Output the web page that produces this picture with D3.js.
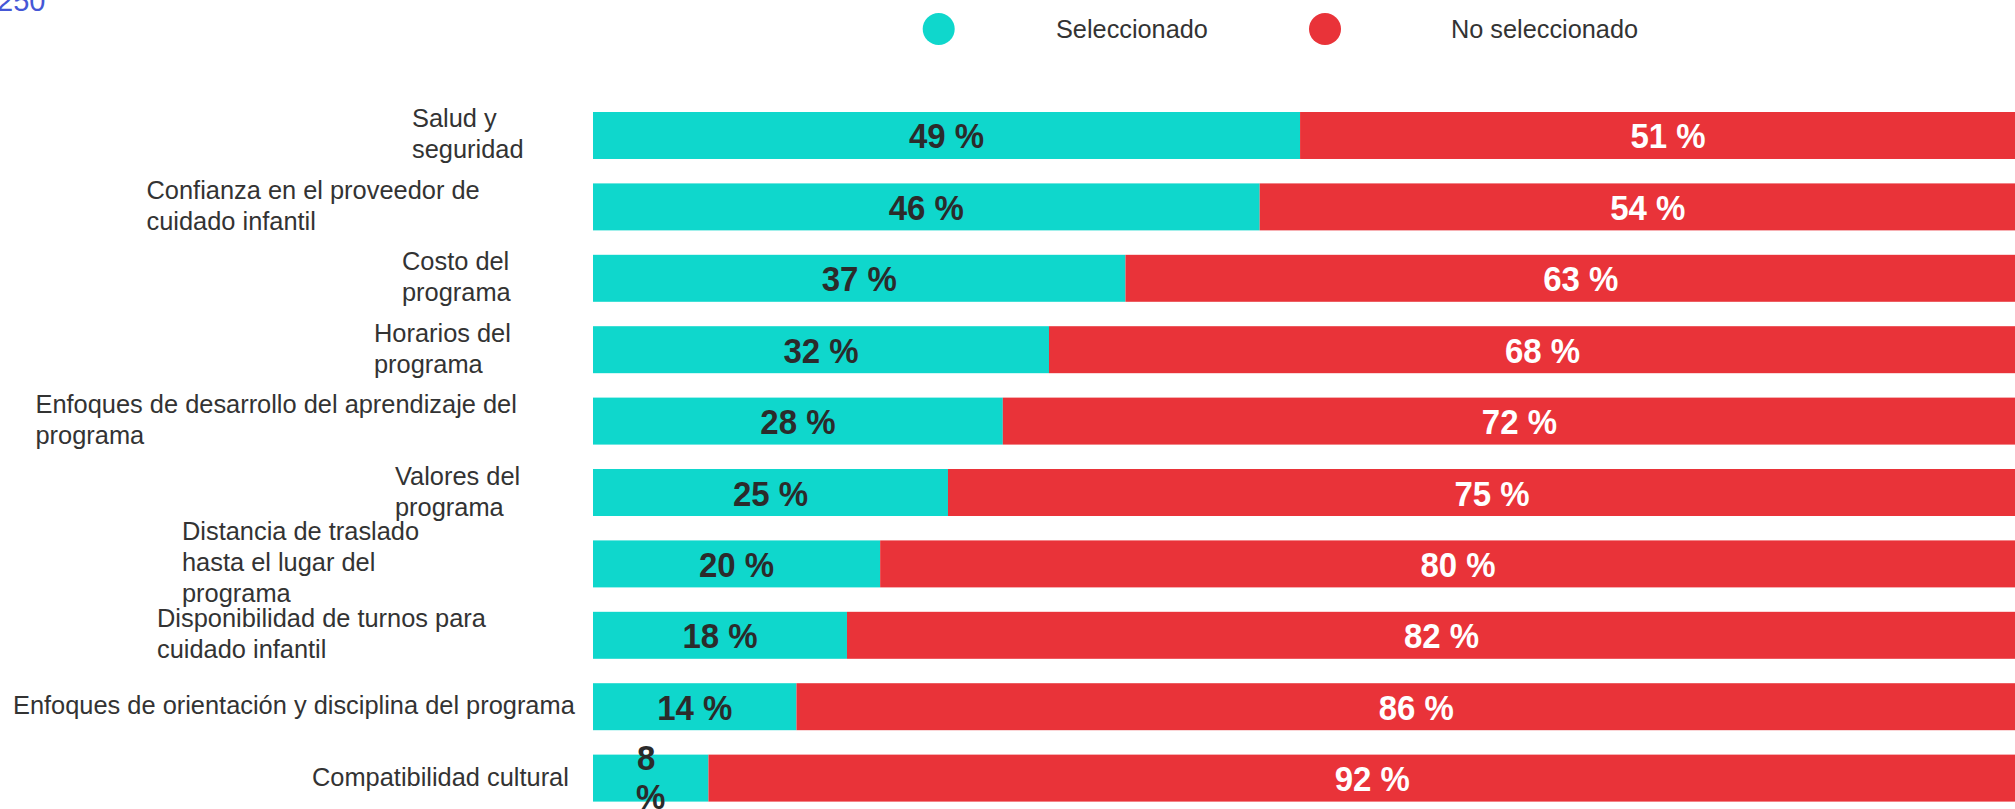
<!DOCTYPE html>
<html><head><meta charset="utf-8">
<script src="https://cdn.jsdelivr.net/npm/d3@7"></script>
<style>
html,body{margin:0;padding:0;background:#fff;overflow:hidden;}
svg{display:block;font-family:"Liberation Sans",Arial,sans-serif;}
</style></head>
<body>
<svg id="chart" width="2015" height="809"></svg>
<script>
// ---- data ----
const categories = [
  ["Salud y", "seguridad"],
  ["Confianza en el proveedor de", "cuidado infantil"],
  ["Costo del", "programa"],
  ["Horarios del", "programa"],
  ["Enfoques de desarrollo del aprendizaje del", "programa"],
  ["Valores del", "programa"],
  ["Distancia de traslado", "hasta el lugar del", "programa"],
  ["Disponibilidad de turnos para", "cuidado infantil"],
  ["Enfoques de orientación y disciplina del programa"],
  ["Compatibilidad cultural"]
];
const seriesNames = ["Seleccionado", "No seleccionado"];
const selected    = [49.0, 46.2, 36.9, 31.6, 28.4, 24.6, 19.9, 17.6, 14.1, 8.0];
const notSelected = [51.0, 53.8, 63.1, 68.4, 71.6, 75.4, 80.1, 82.4, 85.9, 92.0];

// ---- layout (not data) ----
const labelLeft = [412, 146.5, 402, 374, 35.5, 395, 182, 157, 13, 312];
const colors = ["#0fd7cc", "#e93339"];

const svg = d3.select("#chart");
const ids = categories.map((d, i) => i);

const x = d3.scaleLinear().domain([0, 100]).range([593, 2036]);
const y = d3.scaleBand().domain(ids).range([112, 801.6]).paddingInner(0.342).paddingOuter(0);

// stray label at the top-left
svg.append("text").attr("x", -3).attr("y", 11)
  .attr("font-size", 29).attr("fill", "#4557d6").text("250");

// legend
const legend = svg.append("g");
const legX = [938.7, 1325];
const legTextX = [1056, 1451];
seriesNames.forEach((name, i) => {
  legend.append("circle").attr("cx", legX[i]).attr("cy", 29).attr("r", 16).attr("fill", colors[i]);
  legend.append("text").attr("x", legTextX[i]).attr("y", 37.5).attr("font-size", 25.3)
    .attr("fill", "#333").text(name);
});

// bars
const rows = svg.append("g").selectAll("g").data(ids).join("g");
rows.append("rect")
  .attr("x", x(0)).attr("y", i => y(i))
  .attr("width", i => x(selected[i]) - x(0)).attr("height", y.bandwidth())
  .attr("fill", colors[0]);
rows.append("rect")
  .attr("x", i => x(selected[i])).attr("y", i => y(i))
  .attr("width", i => x(selected[i] + notSelected[i]) - x(selected[i])).attr("height", y.bandwidth())
  .attr("fill", colors[1]);

// value labels
function valueLabel(sel, value, x0, x1, fill) {
  sel.each(function(i) {
    const cx = (x0(i) + x1(i)) / 2;
    const cy = y(i) + y.bandwidth() / 2;
    const txt = Math.round(value[i]) + " %";
    const t = d3.select(this).append("text")
      .attr("text-anchor", "middle").attr("font-size", 33).attr("font-weight", "bold")
      .attr("fill", fill).style("white-space", "pre");
    const w = 33 * 1.723 + (txt.length - 3) * 33 * 0.556;
    const barW = x1(i) - x0(i);
    if (w + 60 > barW) {
      const parts = txt.split(" ");
      t.attr("transform", `translate(${cx},${cy - 8}) scale(1,1.09)`);
      t.append("tspan").attr("x", 0).attr("y", 0).text(parts[0] + " ");
      t.append("tspan").attr("x", 0).attr("dy", 39 / 1.09).text(parts[1]);
    } else {
      t.attr("transform", `translate(${cx},${cy + 13}) scale(1,1.09)`).text(txt);
    }
  });
}
valueLabel(rows, selected, () => x(0), i => x(selected[i]), "#2b2b2b");
valueLabel(rows, notSelected, i => x(selected[i]), i => x(selected[i] + notSelected[i]), "#ffffff");

// category labels
const lh = 31;
svg.append("g").selectAll("text").data(ids).join("text")
  .attr("font-size", 25.4).attr("fill", "#333")
  .attr("x", i => labelLeft[i])
  .attr("y", i => {
    const n = categories[i].length;
    const cy = y(i) + y.bandwidth() / 2;
    return cy + 7.5 - (n - 1) / 2 * lh;
  })
  .each(function(i) {
    const t = d3.select(this);
    const x0 = labelLeft[i];
    categories[i].forEach((line, k) => {
      t.append("tspan").attr("x", x0).attr("dy", k === 0 ? 0 : lh).text(line);
    });
  });
</script>
</body></html>
